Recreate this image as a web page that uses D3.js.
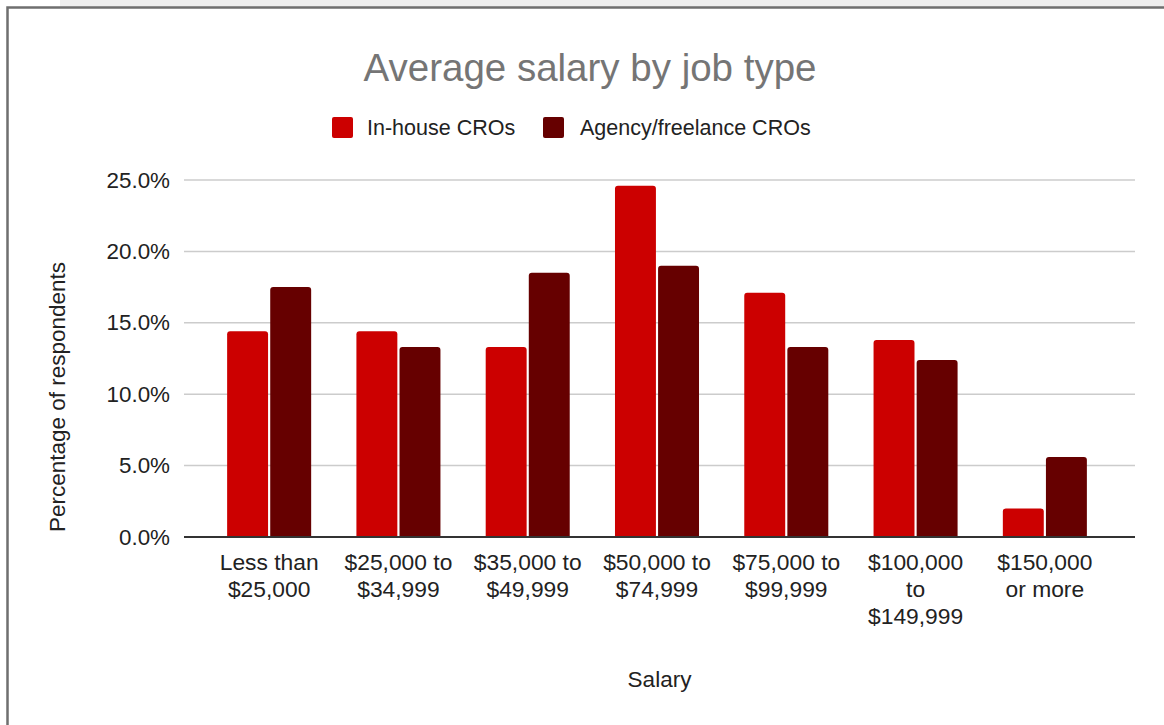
<!DOCTYPE html>
<html>
<head>
<meta charset="utf-8">
<script src="https://cdn.jsdelivr.net/npm/d3@7/dist/d3.min.js"></script>
<style>
html,body{margin:0;padding:0;background:#fff;}
svg{display:block;font-family:"Liberation Sans",Arial,sans-serif;}
</style>
</head>
<body>
<svg id="chart" width="1164" height="725"></svg>
<script>
const categories = ["Less than\n$25,000", "$25,000 to\n$34,999", "$35,000 to\n$49,999", "$50,000 to\n$74,999", "$75,000 to\n$99,999", "$100,000\nto\n$149,999", "$150,000\nor more"];
const seriesNames = ["In-house CROs", "Agency/freelance CROs"];
const inHouse = [14.4, 14.4, 13.3, 24.6, 17.1, 13.8, 2.0];
const agency = [17.5, 13.3, 18.5, 19.0, 13.3, 12.4, 5.6];
const yTicks = [0, 5, 10, 15, 20, 25];
const colors = ["#cc0000", "#660000"];

const svg = d3.select("#chart");

// page frame
svg.append("rect").attr("x", 60).attr("y", 0).attr("width", 1104).attr("height", 7).attr("fill", "#eeeeee");
svg.append("rect").attr("x", 7.5).attr("y", 7.5).attr("width", 1170).attr("height", 730)
  .attr("fill", "#fff").attr("stroke", "#6f6f6f").attr("stroke-width", 2.5);

const plotLeft = 184, plotRight = 1135, plotTop = 180, plotBottom = 537;

const x0 = d3.scaleBand().domain(categories).range([204.5, 1109.5]).paddingInner(0.35).paddingOuter(0.175);
const x1 = d3.scaleBand().domain(seriesNames).range([0, x0.bandwidth()]).paddingInner(0.05);
const y = d3.scaleLinear().domain([0, 25]).range([plotBottom, plotTop]);

// gridlines
svg.append("g").selectAll("line").data(yTicks.filter(d => d > 0)).join("line")
  .attr("x1", plotLeft).attr("x2", plotRight)
  .attr("y1", d => y(d)).attr("y2", d => y(d))
  .attr("stroke", "#cccccc").attr("stroke-width", 1.5);

// y axis labels
const yAxis = d3.axisLeft(y).tickValues(yTicks).tickFormat(d => d.toFixed(1) + "%").tickSize(0).tickPadding(14);
const yg = svg.append("g").attr("transform", `translate(${plotLeft},0)`).call(yAxis);
yg.select(".domain").remove();
yg.selectAll("text").attr("font-size", 22.4).attr("fill", "#222").attr("font-family", "Liberation Sans, Arial, sans-serif");

// bars
const rows = categories.map((c, i) => ({cat: c, vals: [inHouse[i], agency[i]]}));
function topRounded(x, yTop, w, yBot, r) {
  r = Math.min(r, (yBot - yTop), w / 2);
  return `M${x},${yBot}V${yTop + r}Q${x},${yTop} ${x + r},${yTop}H${x + w - r}Q${x + w},${yTop} ${x + w},${yTop + r}V${yBot}Z`;
}
const grp = svg.append("g").selectAll("g").data(rows).join("g")
  .attr("transform", d => `translate(${x0(d.cat)},0)`);
grp.selectAll("path").data(d => d.vals.map((v, j) => ({v, s: seriesNames[j], j}))).join("path")
  .attr("d", d => topRounded(x1(d.s), y(d.v), x1.bandwidth(), y(0), 3))
  .attr("fill", d => colors[d.j]);

// baseline
svg.append("line").attr("x1", plotLeft).attr("x2", plotRight).attr("y1", y(0)).attr("y2", y(0))
  .attr("stroke", "#333").attr("stroke-width", 2);

// x labels
const xAxis = d3.axisBottom(x0).tickSize(0).tickFormat("");
const xg = svg.append("g").attr("transform", `translate(0,${plotBottom})`).call(xAxis);
xg.select(".domain").remove();
xg.selectAll(".tick").each(function(d) {
  const t = d3.select(this).append("text").attr("text-anchor", "middle").attr("font-size", 22.8).attr("fill", "#222")
    .attr("font-family", "Liberation Sans, Arial, sans-serif");
  d.split("\n").forEach((line, k) => {
    t.append("tspan").attr("x", 0).attr("y", 33 + k * 27).text(line);
  });
});

// axis titles
svg.append("text").attr("x", (plotLeft + plotRight) / 2).attr("y", 687).attr("text-anchor", "middle")
  .attr("font-size", 22.5).attr("fill", "#222").text("Salary");
svg.append("text").attr("transform", "translate(65,397) rotate(-90)").attr("text-anchor", "middle")
  .attr("font-size", 22.5).attr("fill", "#222").text("Percentage of respondents");

// title
svg.append("text").attr("x", 590).attr("y", 81).attr("text-anchor", "middle")
  .attr("font-size", 38.5).attr("fill", "#757575").text("Average salary by job type");

// legend
const legendItems = [{name: seriesNames[0], x: 332, tx: 367}, {name: seriesNames[1], x: 543, tx: 580}];
const lg = svg.append("g").selectAll("g").data(legendItems).join("g");
lg.append("rect").attr("x", d => d.x).attr("y", 117).attr("width", 21).attr("height", 21).attr("rx", 2)
  .attr("fill", (d, i) => colors[i]);
lg.append("text").attr("x", d => d.tx).attr("y", 135).attr("font-size", 21.5).attr("fill", "#222").text(d => d.name);
</script>
</body>
</html>
